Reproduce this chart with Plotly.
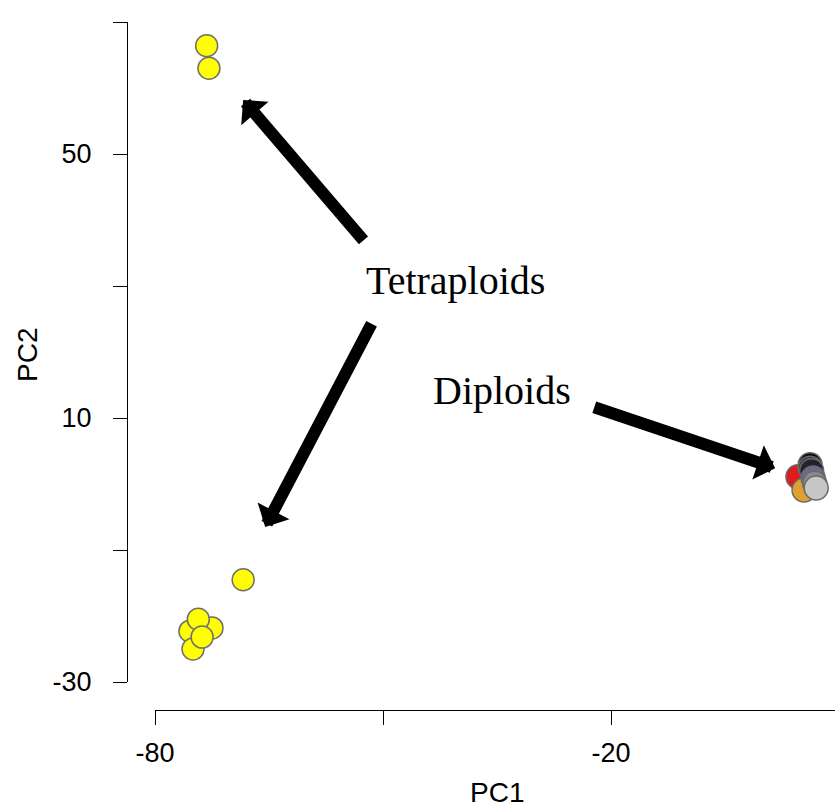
import plotly.graph_objects as go

# ---- data ----
tetra_pc1 = [-75.4, -75.0, -72.5, -74.3, -73.8, -68.4, -73.2, -72.9]
tetra_pc2 = [-22.3, -25.0, -21.8, -20.5, -23.2, -14.5, 66.4, 63.0]

dip_pc1 = [4.6, 5.4, 6.2, 6.2, 6.4, 6.6, 6.8, 7.0]
dip_pc2 = [1.1, -0.9, 2.9, 2.4, 2.0, 0.9, 0.1, -0.6]
dip_colors = ["#E01B1B", "#E0A030", "#0A0A0A", "#3C3C3C", "#222230",
              "#6E6A8E", "#8A8A8A", "#C6C6C6"]

x_tickvals = [-80, -50, -20, 10]
x_ticktext = ["-80", "", "-20", ""]
y_tickvals = [-30, -10, 10, 30, 50, 70]
y_ticktext = ["-30", "", "10", "", "50", ""]

labels = ["Tetraploids", "Diploids"]
label_pos = [(-40.4, 30.9), (-34.3, 14.1)]
# arrows: (tail_x, tail_y, tip_x, tip_y)
arrows = [(-52.4, 36.7, -68.4, 58.2),
          (-51.4, 24.5, -65.5, -6.5),
          (-22.4, 11.7, 1.6, 2.4)]

fig = go.Figure()
fig.add_trace(go.Scatter(
    x=tetra_pc1, y=tetra_pc2, mode="markers", cliponaxis=False,
    marker=dict(size=22, color="#FFFF00", line=dict(color="#707070", width=1.5)),
    showlegend=False, hoverinfo="x+y"))
fig.add_trace(go.Scatter(
    x=dip_pc1, y=dip_pc2, mode="markers", cliponaxis=False,
    marker=dict(size=24, color=dip_colors, line=dict(color="#6A6A6A", width=1.5)),
    showlegend=False, hoverinfo="x+y"))

for (tx, ty, hx, hy) in arrows:
    fig.add_annotation(x=hx, y=hy, ax=tx, ay=ty, xref="x", yref="y",
                       axref="x", ayref="y", text="", showarrow=True,
                       arrowhead=1, arrowsize=0.5, arrowwidth=12,
                       arrowcolor="black", standoff=0)

for lab, (lx, ly) in zip(labels, label_pos):
    fig.add_annotation(x=lx, y=ly, xref="x", yref="y", text=lab, showarrow=False,
                       font=dict(family="Liberation Serif", size=40, color="black"),
                       xanchor="center", yanchor="middle")

fig.add_annotation(x=-0.1398, y=0.516, xref="paper", yref="paper", text="PC2",
                   textangle=-90, showarrow=False, xanchor="center", yanchor="middle",
                   font=dict(family="Liberation Sans", size=28, color="black"))
fig.add_annotation(x=0.5226, y=-0.1206, xref="paper", yref="paper", text="PC1",
                   showarrow=False, xanchor="center", yanchor="middle",
                   font=dict(family="Liberation Sans", size=28, color="black"))

W, H = 835, 810
ml, mr, mt, mb = 127, 0, 22, 100
pw = W - ml - mr
ph = H - mt - mb

fig.update_layout(
    width=W, height=H,
    margin=dict(l=ml, r=mr, t=mt, b=mb, pad=0),
    plot_bgcolor="white", paper_bgcolor="white",
    xaxis=dict(domain=[28 / pw, 1], range=[-80, -80 + 680 / 7.6],
               anchor="free", position=0,
               showline=True, linecolor="black", linewidth=1.3,
               ticks="outside", ticklen=14, tickwidth=1.3, tickcolor="black",
               tickvals=x_tickvals, ticktext=x_ticktext,
               tickfont=dict(family="Liberation Sans", size=27, color="black"),
               showgrid=False, zeroline=False, ticklabelstandoff=4),
    yaxis=dict(domain=[28 / ph, 1], range=[-30, 70],
               anchor="free", position=0,
               showline=True, linecolor="black", linewidth=1.3,
               ticks="outside", ticklen=14, tickwidth=1.3, tickcolor="black",
               tickvals=y_tickvals, ticktext=y_ticktext,
               tickfont=dict(family="Liberation Sans", size=27, color="black"),
               showgrid=False, zeroline=False, ticklabelstandoff=16),
)

fig.write_html("out.html", config={"displayModeBar": False})

# remove the browser's default page margin so the figure sits at (0, 0)
with open("out.html", "r", encoding="utf-8") as f:
    html = f.read()
html = html.replace("<body>", '<body style="margin:0;overflow:hidden">', 1)
with open("out.html", "w", encoding="utf-8") as f:
    f.write(html)
